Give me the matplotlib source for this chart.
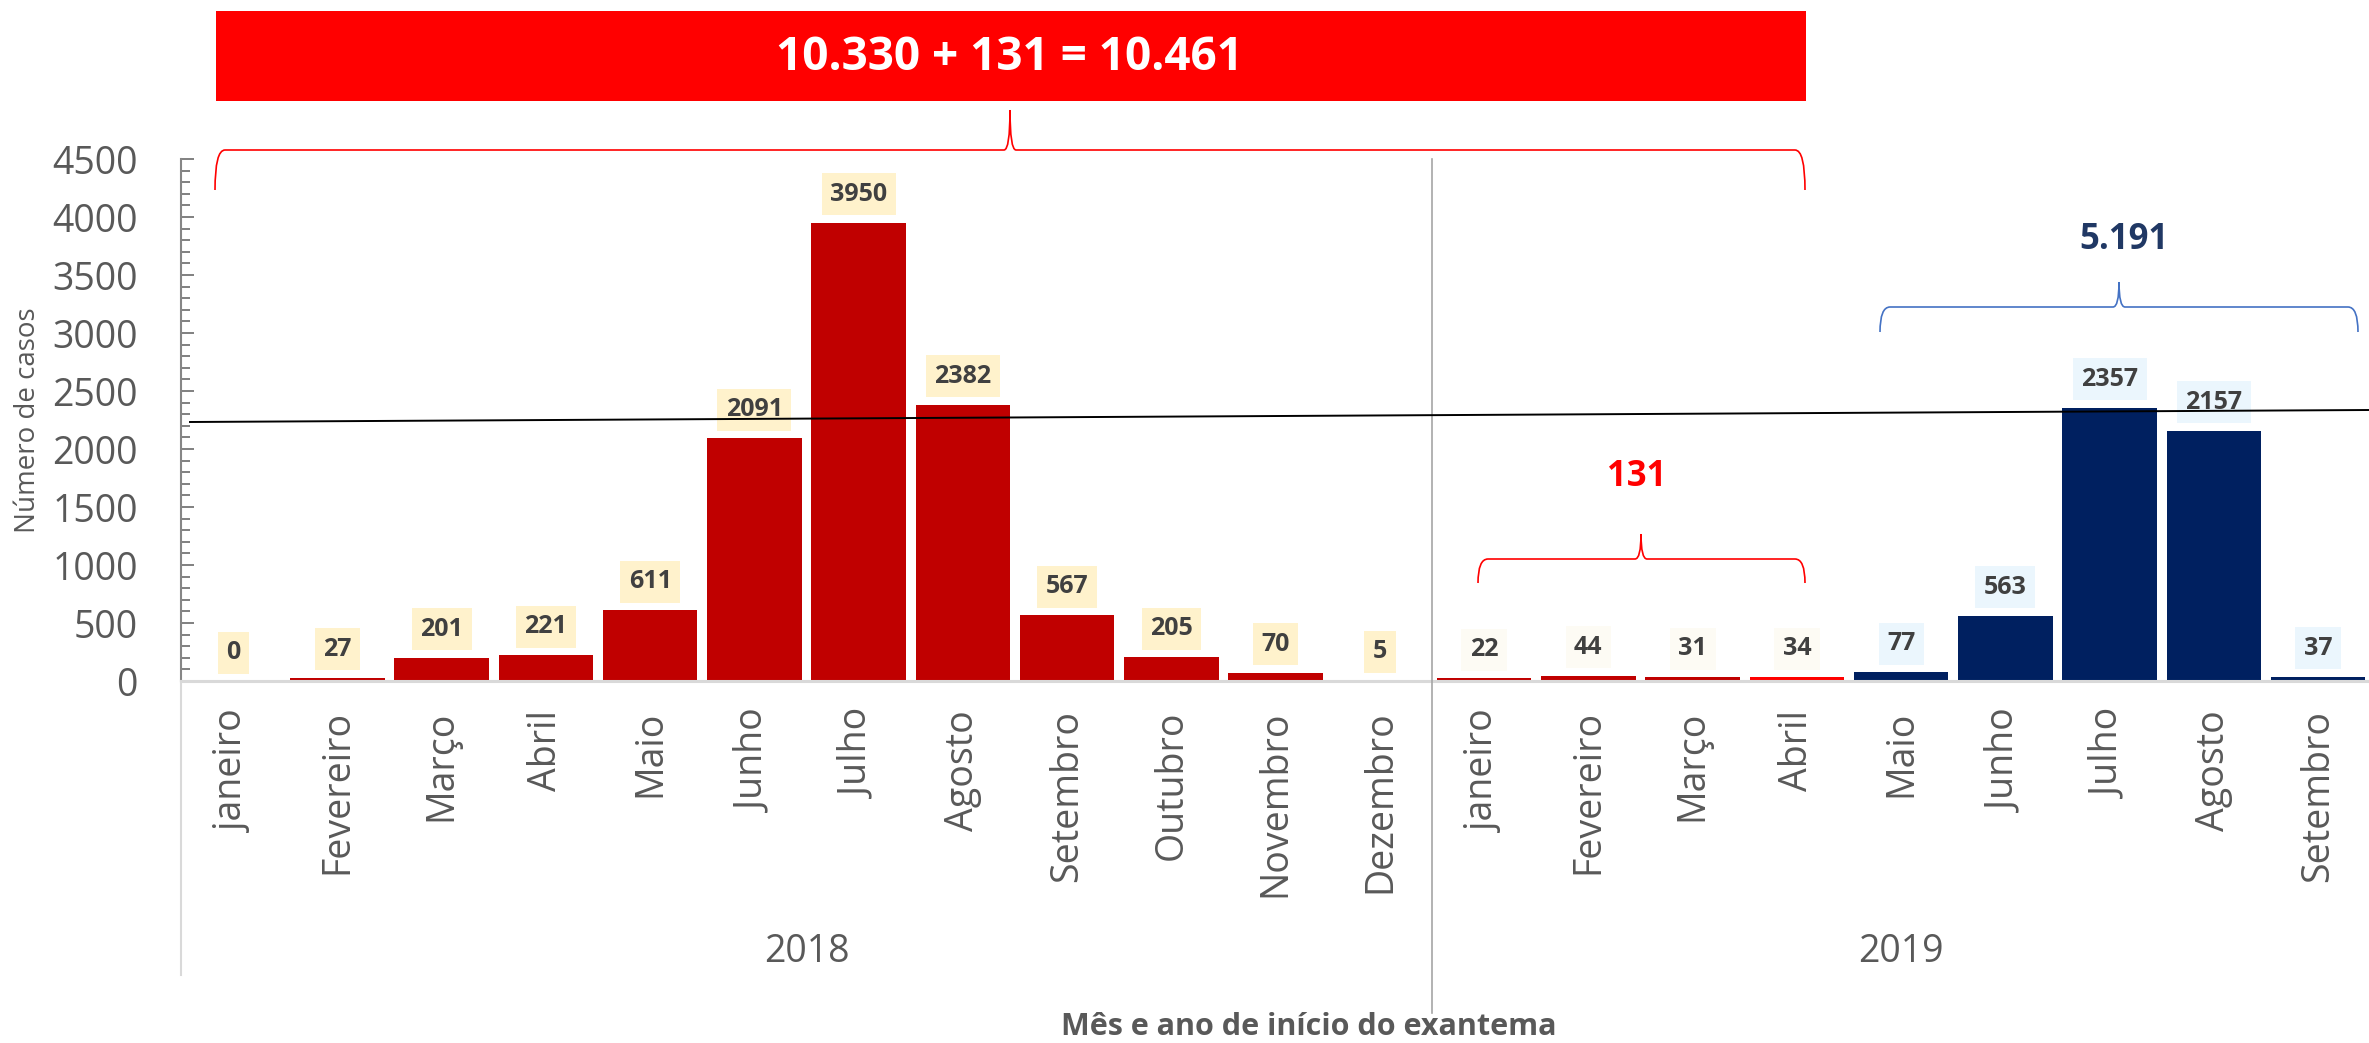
import matplotlib
matplotlib.use("Agg")
import matplotlib.pyplot as plt
from matplotlib.patches import Rectangle, PathPatch
from matplotlib.path import Path
from matplotlib.lines import Line2D
from matplotlib.ticker import MultipleLocator
import matplotlib.transforms as mtransforms

# ---------------- data ----------------
months_2018 = ['janeiro', 'Fevereiro', 'Março', 'Abril', 'Maio', 'Junho', 'Julho',
               'Agosto', 'Setembro', 'Outubro', 'Novembro', 'Dezembro']
months_2019 = ['janeiro', 'Fevereiro', 'Março', 'Abril', 'Maio', 'Junho', 'Julho',
               'Agosto', 'Setembro']
cases_2018 = [0, 27, 201, 221, 611, 2091, 3950, 2382, 567, 205, 70, 5]
cases_2019 = [22, 44, 31, 34, 77, 563, 2357, 2157, 37]
years = ['2018', '2019']
banner_text = '10.330 + 131 = 10.461'
sub_red_text = '131'
sub_blue_text = '5.191'
y_label = 'Número de casos'
x_label = 'Mês e ano de início do exantema'

# ---------------- styling ----------------
W, H = 2369, 1043
DPI = 100
plt.rcParams['font.family'] = ['Open Sans', 'DejaVu Sans']

GRAY_TXT = '#595959'
bar_colors = ['#C00000'] * 12 + ['#C00000'] * 3 + ['#FF0000'] + ['#002060'] * 5
box_colors = ['#FFF2CC'] * 12 + ['#FDFBF4'] * 4 + ['#EBF6FD'] * 5

values = cases_2018 + cases_2019
labels = months_2018 + months_2019
xs = list(range(len(values)))

fig = plt.figure(figsize=(W / DPI, H / DPI), dpi=DPI)

def fx(px):
    return px / W

def fy(py):
    return 1 - py / H

ax_left, ax_top, ax_bottom = 181, 159, 681
pitch = 104.25
ax = fig.add_axes([fx(ax_left), fy(ax_bottom), len(values) * pitch / W,
                   (ax_bottom - ax_top) / H])

ax.bar(xs, values, width=0.906, color=bar_colors, zorder=2)
ax.set_xlim(-0.5, len(values) - 0.5)
ax.set_ylim(0, 4500)

# y axis
ax.yaxis.set_major_locator(MultipleLocator(500))
ax.yaxis.set_minor_locator(MultipleLocator(100))
ax.tick_params(axis='y', which='major', direction='in', length=9.5, width=1.4,
               color='#808080', pad=31, labelsize=27, labelcolor=GRAY_TXT)
ax.tick_params(axis='y', which='minor', direction='in', length=6.5, width=1.4,
               color='#808080')
# x axis
ax.set_xticks(xs)
ax.set_xticklabels(labels, rotation=90, fontsize=27, color=GRAY_TXT)
ax.tick_params(axis='x', length=0, pad=21)

for s in ['top', 'right']:
    ax.spines[s].set_visible(False)
ax.spines['left'].set_color('#868686')
ax.spines['left'].set_linewidth(1.5)
ax.spines['bottom'].set_color('#D9D9D9')
ax.spines['bottom'].set_linewidth(2.2)

# data labels
for x, v, bc in zip(xs, values, box_colors):
    ax.annotate(str(v), xy=(x, v), xytext=(0, 20.5), textcoords='offset points',
                ha='center', va='center', fontsize=18, fontweight='bold',
                color='#404040', zorder=4,
                bbox=dict(boxstyle='square,pad=0.34', fc=bc, ec='none'))

# category-axis lines (extension below axis and year separator)
fig.add_artist(Line2D([fx(ax_left), fx(ax_left)], [fy(ax_bottom), fy(975)],
                      color='#D9D9D9', lw=1.5))
sep_x = ax_left + len(months_2018) * pitch
fig.add_artist(Line2D([fx(sep_x), fx(sep_x)], [fy(ax_top), fy(1013)],
                      color='#A6A6A6', lw=1.2))

# year labels
trans = mtransforms.blended_transform_factory(ax.transData, fig.transFigure)
ax.text((len(months_2018) - 1) / 2, fy(952), years[0], transform=trans,
        ha='center', va='center', fontsize=27, color=GRAY_TXT)
ax.text(len(months_2018) + (len(months_2019) - 1) / 2, fy(952), years[1],
        transform=trans, ha='center', va='center', fontsize=27, color=GRAY_TXT)

# axis titles
fig.text(fx(28), fy(420), y_label, rotation=90, ha='center', va='center',
         fontsize=20, color=GRAY_TXT)
fig.text(fx(1309), fy(1027), x_label, ha='center', va='center', fontsize=22,
         fontweight='bold', color=GRAY_TXT)

# black reference line
fig.add_artist(Line2D([fx(190), fx(2369)], [fy(422), fy(410)], color='black',
                      lw=1.4, zorder=10))

# banner
fig.add_artist(Rectangle((fx(216), fy(101)), fx(1806) - fx(216), fy(11) - fy(101),
                         transform=fig.transFigure, fc='#FF0000', ec='none'))
fig.text(fx(1010), fy(57), banner_text, ha='center', va='center', fontsize=33,
         fontweight='bold', color='white')


def brace(x0, x1, yh, yend, xt, ytip, color, lw=1.2):
    r = 10
    tr = 6
    pts = [
        (x0, yend), (x0, yh), (x0 + r, yh),
        (xt - tr, yh), (xt, yh), (xt, ytip),
        (xt, yh), (xt + tr, yh),
        (x1 - r, yh), (x1, yh), (x1, yend),
    ]
    codes = [Path.MOVETO, Path.CURVE3, Path.CURVE3,
             Path.LINETO, Path.CURVE3, Path.CURVE3,
             Path.CURVE3, Path.CURVE3,
             Path.LINETO, Path.CURVE3, Path.CURVE3]
    verts = [(fx(a), fy(b)) for a, b in pts]
    fig.add_artist(PathPatch(Path(verts, codes), transform=fig.transFigure,
                             fc='none', ec=color, lw=lw))


brace(215, 1805, 150, 190, 1010, 110, '#FF0000')
brace(1478, 1805, 559, 583, 1641, 534, '#FF0000')
brace(1880, 2358, 307, 332, 2119, 282, '#4472C4')

fig.text(fx(1637), fy(477), sub_red_text, ha='center', va='center', fontsize=25,
         fontweight='bold', color='#FF0000')
fig.text(fx(2124), fy(240), sub_blue_text, ha='center', va='center', fontsize=25,
         fontweight='bold', color='#203864')

fig.savefig('out.png', dpi=DPI)
